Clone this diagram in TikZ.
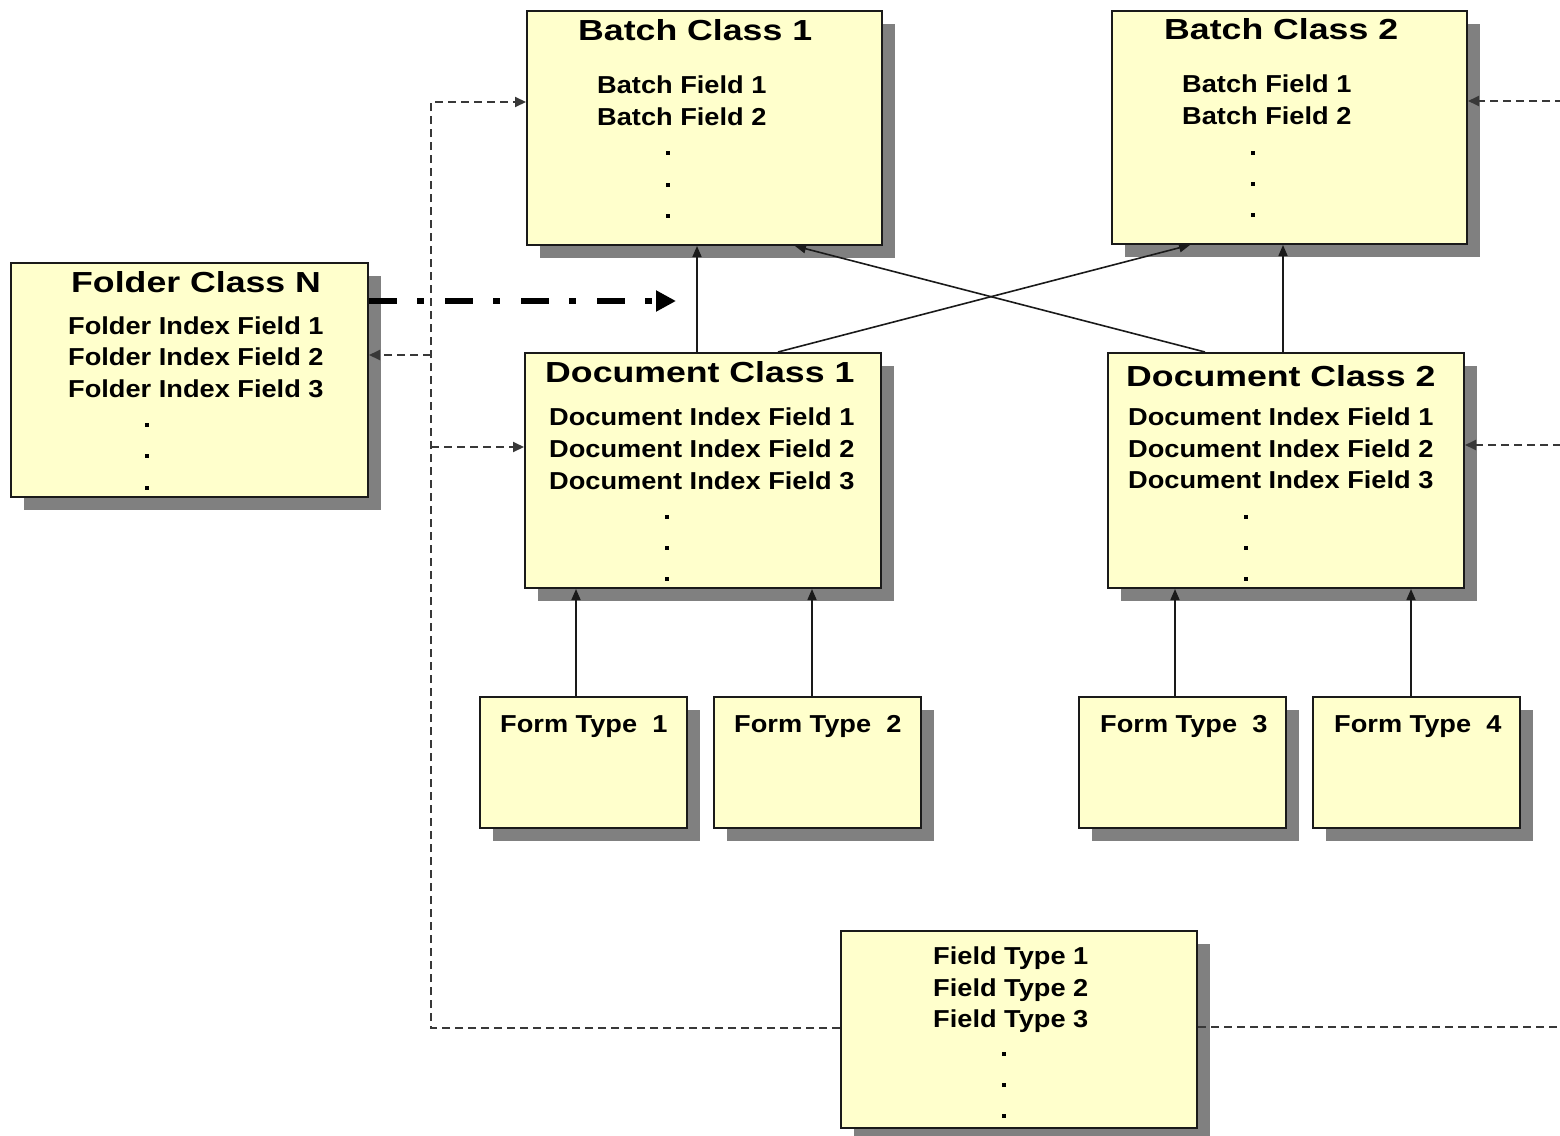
\documentclass[tikz,border=0pt]{standalone}
\usepackage{fontspec}
\newfontfamily\titlefont[FakeStretch=1.23]{Liberation Sans}
\newfontfamily\fieldfont[FakeStretch=1.11]{Liberation Sans}
\usetikzlibrary{shadows,arrows.meta}
\definecolor{boxfill}{HTML}{FFFFCC}
\definecolor{shadowgray}{HTML}{808080}
\definecolor{dashgray}{HTML}{383838}
\definecolor{edgeblack}{HTML}{1A1A1A}

\begin{document}
\begin{tikzpicture}[x=1pt,y=-1pt,
  classbox/.style={rectangle, draw=edgeblack, line width=2pt, fill=boxfill,
    anchor=north west, inner sep=0pt,
    drop shadow={shadow xshift=13pt, shadow yshift=-13pt, fill=shadowgray, opacity=1}},
  bigbox/.style={classbox, minimum width=355pt, minimum height=234pt},
  formbox/.style={classbox, minimum width=207pt, minimum height=131pt},
  titletext/.style={font=\titlefont\bfseries\fontsize{29}{29}\selectfont, inner sep=0pt, anchor=base west},
  fieldtext/.style={font=\fieldfont\bfseries\fontsize{24.5}{24.5}\selectfont, inner sep=0pt, anchor=base west},
  dotmark/.style={rectangle, fill=black, inner sep=0pt, minimum size=4.5pt},
  solidlink/.style={draw=edgeblack, line width=1.6pt, -{Triangle[length=11pt,width=9pt]}},
  dashlink/.style={draw=dashgray, line width=2pt, dash pattern=on 8pt off 5pt},
  dashtip/.style={dashlink, -{Triangle[length=11pt,width=10pt]}},
  dashdotlink/.style={draw=black, line width=6pt, dash pattern=on 28pt off 20pt on 7pt off 21pt,
    -{Triangle[length=20pt,width=20pt]}}
]
\useasboundingbox (0,0) rectangle (1560,1135);

% ---- class boxes ----
\node[bigbox] (bc1) at (526,10) {};
\node[bigbox, minimum height=233pt] (bc2) at (1111,10) {};
\node[bigbox, minimum width=357pt] (fc) at (10,262) {};
\node[bigbox, minimum width=356pt, minimum height=235pt] (dc1) at (524,352) {};
\node[bigbox, minimum width=356pt, minimum height=235pt] (dc2) at (1107,352) {};
\node[formbox] (ft1) at (479,696) {};
\node[formbox] (ft2) at (713,696) {};
\node[formbox] (ft3) at (1078,696) {};
\node[formbox] (ft4) at (1312,696) {};
\node[bigbox, minimum width=356pt, minimum height=197pt] (ftype) at (840,930) {};

% ---- Batch Class 1 ----
\node[titletext] (bc1t) at (578,40) {Batch Class 1};
\node[fieldtext] (bc1f1) at (597,93) {Batch Field 1};
\node[fieldtext] (bc1f2) at (597,125) {Batch Field 2};
\node[dotmark] (bc1d1) at (668,153) {};
\node[dotmark] (bc1d2) at (668,185) {};
\node[dotmark] (bc1d3) at (668,216) {};

% ---- Batch Class 2 ----
\node[titletext] (bc2t) at (1164,39) {Batch Class 2};
\node[fieldtext] (bc2f1) at (1182,92) {Batch Field 1};
\node[fieldtext] (bc2f2) at (1182,124) {Batch Field 2};
\node[dotmark] (bc2d1) at (1253,153) {};
\node[dotmark] (bc2d2) at (1253,184) {};
\node[dotmark] (bc2d3) at (1253,215) {};

% ---- Folder Class N ----
\node[titletext] (fct) at (71,292) {Folder Class N};
\node[fieldtext] (fcf1) at (68,334) {Folder Index Field 1};
\node[fieldtext] (fcf2) at (68,365) {Folder Index Field 2};
\node[fieldtext] (fcf3) at (68,397) {Folder Index Field 3};
\node[dotmark] (fcd1) at (147,425) {};
\node[dotmark] (fcd2) at (147,456) {};
\node[dotmark] (fcd3) at (147,488) {};

% ---- Document Class 1 ----
\node[titletext] (dc1t) at (545,382) {Document Class 1};
\node[fieldtext] (dc1f1) at (549,425) {Document Index Field 1};
\node[fieldtext] (dc1f2) at (549,457) {Document Index Field 2};
\node[fieldtext] (dc1f3) at (549,489) {Document Index Field 3};
\node[dotmark] (dc1d1) at (667,517) {};
\node[dotmark] (dc1d2) at (667,548) {};
\node[dotmark] (dc1d3) at (667,579) {};

% ---- Document Class 2 ----
\node[titletext] (dc2t) at (1126,386) {Document Class 2};
\node[fieldtext] (dc2f1) at (1128,425) {Document Index Field 1};
\node[fieldtext] (dc2f2) at (1128,457) {Document Index Field 2};
\node[fieldtext] (dc2f3) at (1128,488) {Document Index Field 3};
\node[dotmark] (dc2d1) at (1246,517) {};
\node[dotmark] (dc2d2) at (1246,548) {};
\node[dotmark] (dc2d3) at (1246,579) {};

% ---- Form types ----
\node[fieldtext] (ft1t) at (500,732) {Form Type\ \ 1};
\node[fieldtext] (ft2t) at (734,732) {Form Type\ \ 2};
\node[fieldtext] (ft3t) at (1100,732) {Form Type\ \ 3};
\node[fieldtext] (ft4t) at (1334,732) {Form Type\ \ 4};

% ---- Field types ----
\node[fieldtext] (ftf1) at (933,964) {Field Type 1};
\node[fieldtext] (ftf2) at (933,996) {Field Type 2};
\node[fieldtext] (ftf3) at (933,1027) {Field Type 3};
\node[dotmark] (ftd1) at (1004,1054) {};
\node[dotmark] (ftd2) at (1004,1085) {};
\node[dotmark] (ftd3) at (1004,1116) {};

% ---- document classes to batch classes ----
\draw[solidlink] ([xshift=173pt]dc1.north west) -- ([xshift=171pt]bc1.south west);
\draw[solidlink] ([xshift=176pt]dc2.north west) -- ([xshift=172pt]bc2.south west);
\draw[solidlink] ([xshift=254pt]dc1.north west) -- ([xshift=79pt]bc2.south west);
\draw[solidlink] ([xshift=98pt]dc2.north west) -- ([xshift=269pt]bc1.south west);

% ---- form types to document classes ----
\draw[solidlink] ([xshift=97pt]ft1.north west) -- ([xshift=52pt]dc1.south west);
\draw[solidlink] ([xshift=99pt]ft2.north west) -- ([xshift=288pt]dc1.south west);
\draw[solidlink] ([xshift=97pt]ft3.north west) -- ([xshift=68pt]dc2.south west);
\draw[solidlink] ([xshift=99pt]ft4.north west) -- ([xshift=304pt]dc2.south west);

% ---- folder class to document level ----
\coordinate (ddend) at (676,301);
\draw[dashdotlink] (fc.east |- ddend) -- (ddend);

% ---- field types, left bus ----
\coordinate (lt) at (431,102);
\coordinate (lf) at (431,355);
\coordinate (ld) at (431,447);
\coordinate (lb) at (431,1028);
\draw[dashtip] (ftype.west |- lb) -- (lb) -- (lt) -- (lt -| bc1.west);
\draw[dashtip] (lf) -- (lf -| fc.east);
\draw[dashtip] (ld) -- (ld -| dc1.west);

% ---- field types, right bus (its vertical run lies on the page edge) ----
\coordinate (rt) at (1561,101);
\coordinate (rd) at (1561,445);
\coordinate (rb) at (1561,1027);
\draw[dashtip] (ftype.east |- rb) -- (rb) -- (rt) -- (rt -| bc2.east);
\draw[dashtip] (rd) -- (rd -| dc2.east);
\end{tikzpicture}
\end{document}
